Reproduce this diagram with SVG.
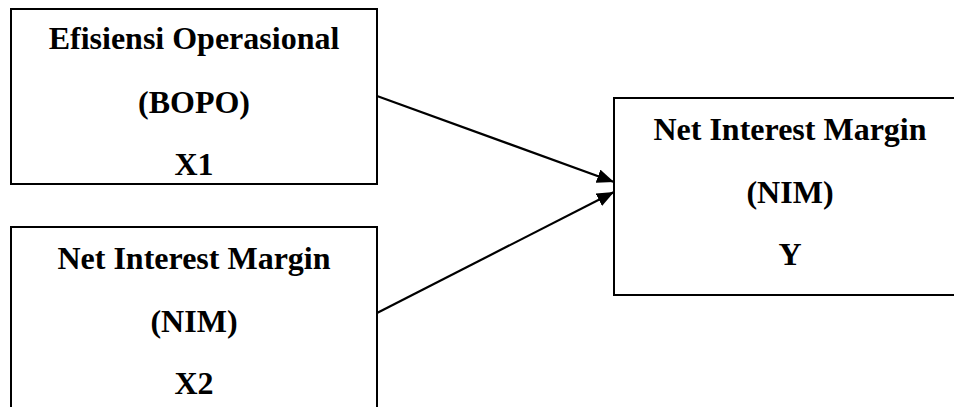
<svg xmlns="http://www.w3.org/2000/svg" width="954" height="407" viewBox="0 0 954 407">
<defs>
<style>
.box{fill:#fff;stroke:#000;stroke-width:2}
.t{font-family:"Liberation Serif","Times New Roman",serif;font-weight:bold;font-size:32px;fill:#000;text-anchor:middle}
.c{stroke:#000;stroke-width:2.2;fill:none;marker-end:url(#ah)}
</style>
<marker id="ah" markerUnits="userSpaceOnUse" markerWidth="18" markerHeight="14" refX="17" refY="7" orient="auto">
<path d="M0,0 L17,7 L0,14 Z" fill="#000"/>
</marker>
</defs>
<rect width="954" height="407" fill="#fff"/>
<g id="node-x1">
<rect class="box" x="11" y="9" width="366" height="175"/>
<text class="t" x="194" y="49">Efisiensi Operasional</text>
<text class="t" x="194" y="113">(BOPO)</text>
<text class="t" x="194" y="175">X1</text>
</g>
<g id="node-x2">
<rect class="box" x="11" y="227" width="366" height="200"/>
<text class="t" x="194" y="269">Net Interest Margin</text>
<text class="t" x="194" y="332">(NIM)</text>
<text class="t" x="194" y="394">X2</text>
</g>
<g id="node-y">
<rect class="box" x="614" y="98" width="352" height="197"/>
<text class="t" x="790" y="140">Net Interest Margin</text>
<text class="t" x="790" y="203">(NIM)</text>
<text class="t" x="790" y="265">Y</text>
</g>
<g id="connectors">
<line class="c" x1="377" y1="96" x2="614" y2="182"/>
<line class="c" x1="377" y1="313" x2="614" y2="192"/>
</g>
</svg>
